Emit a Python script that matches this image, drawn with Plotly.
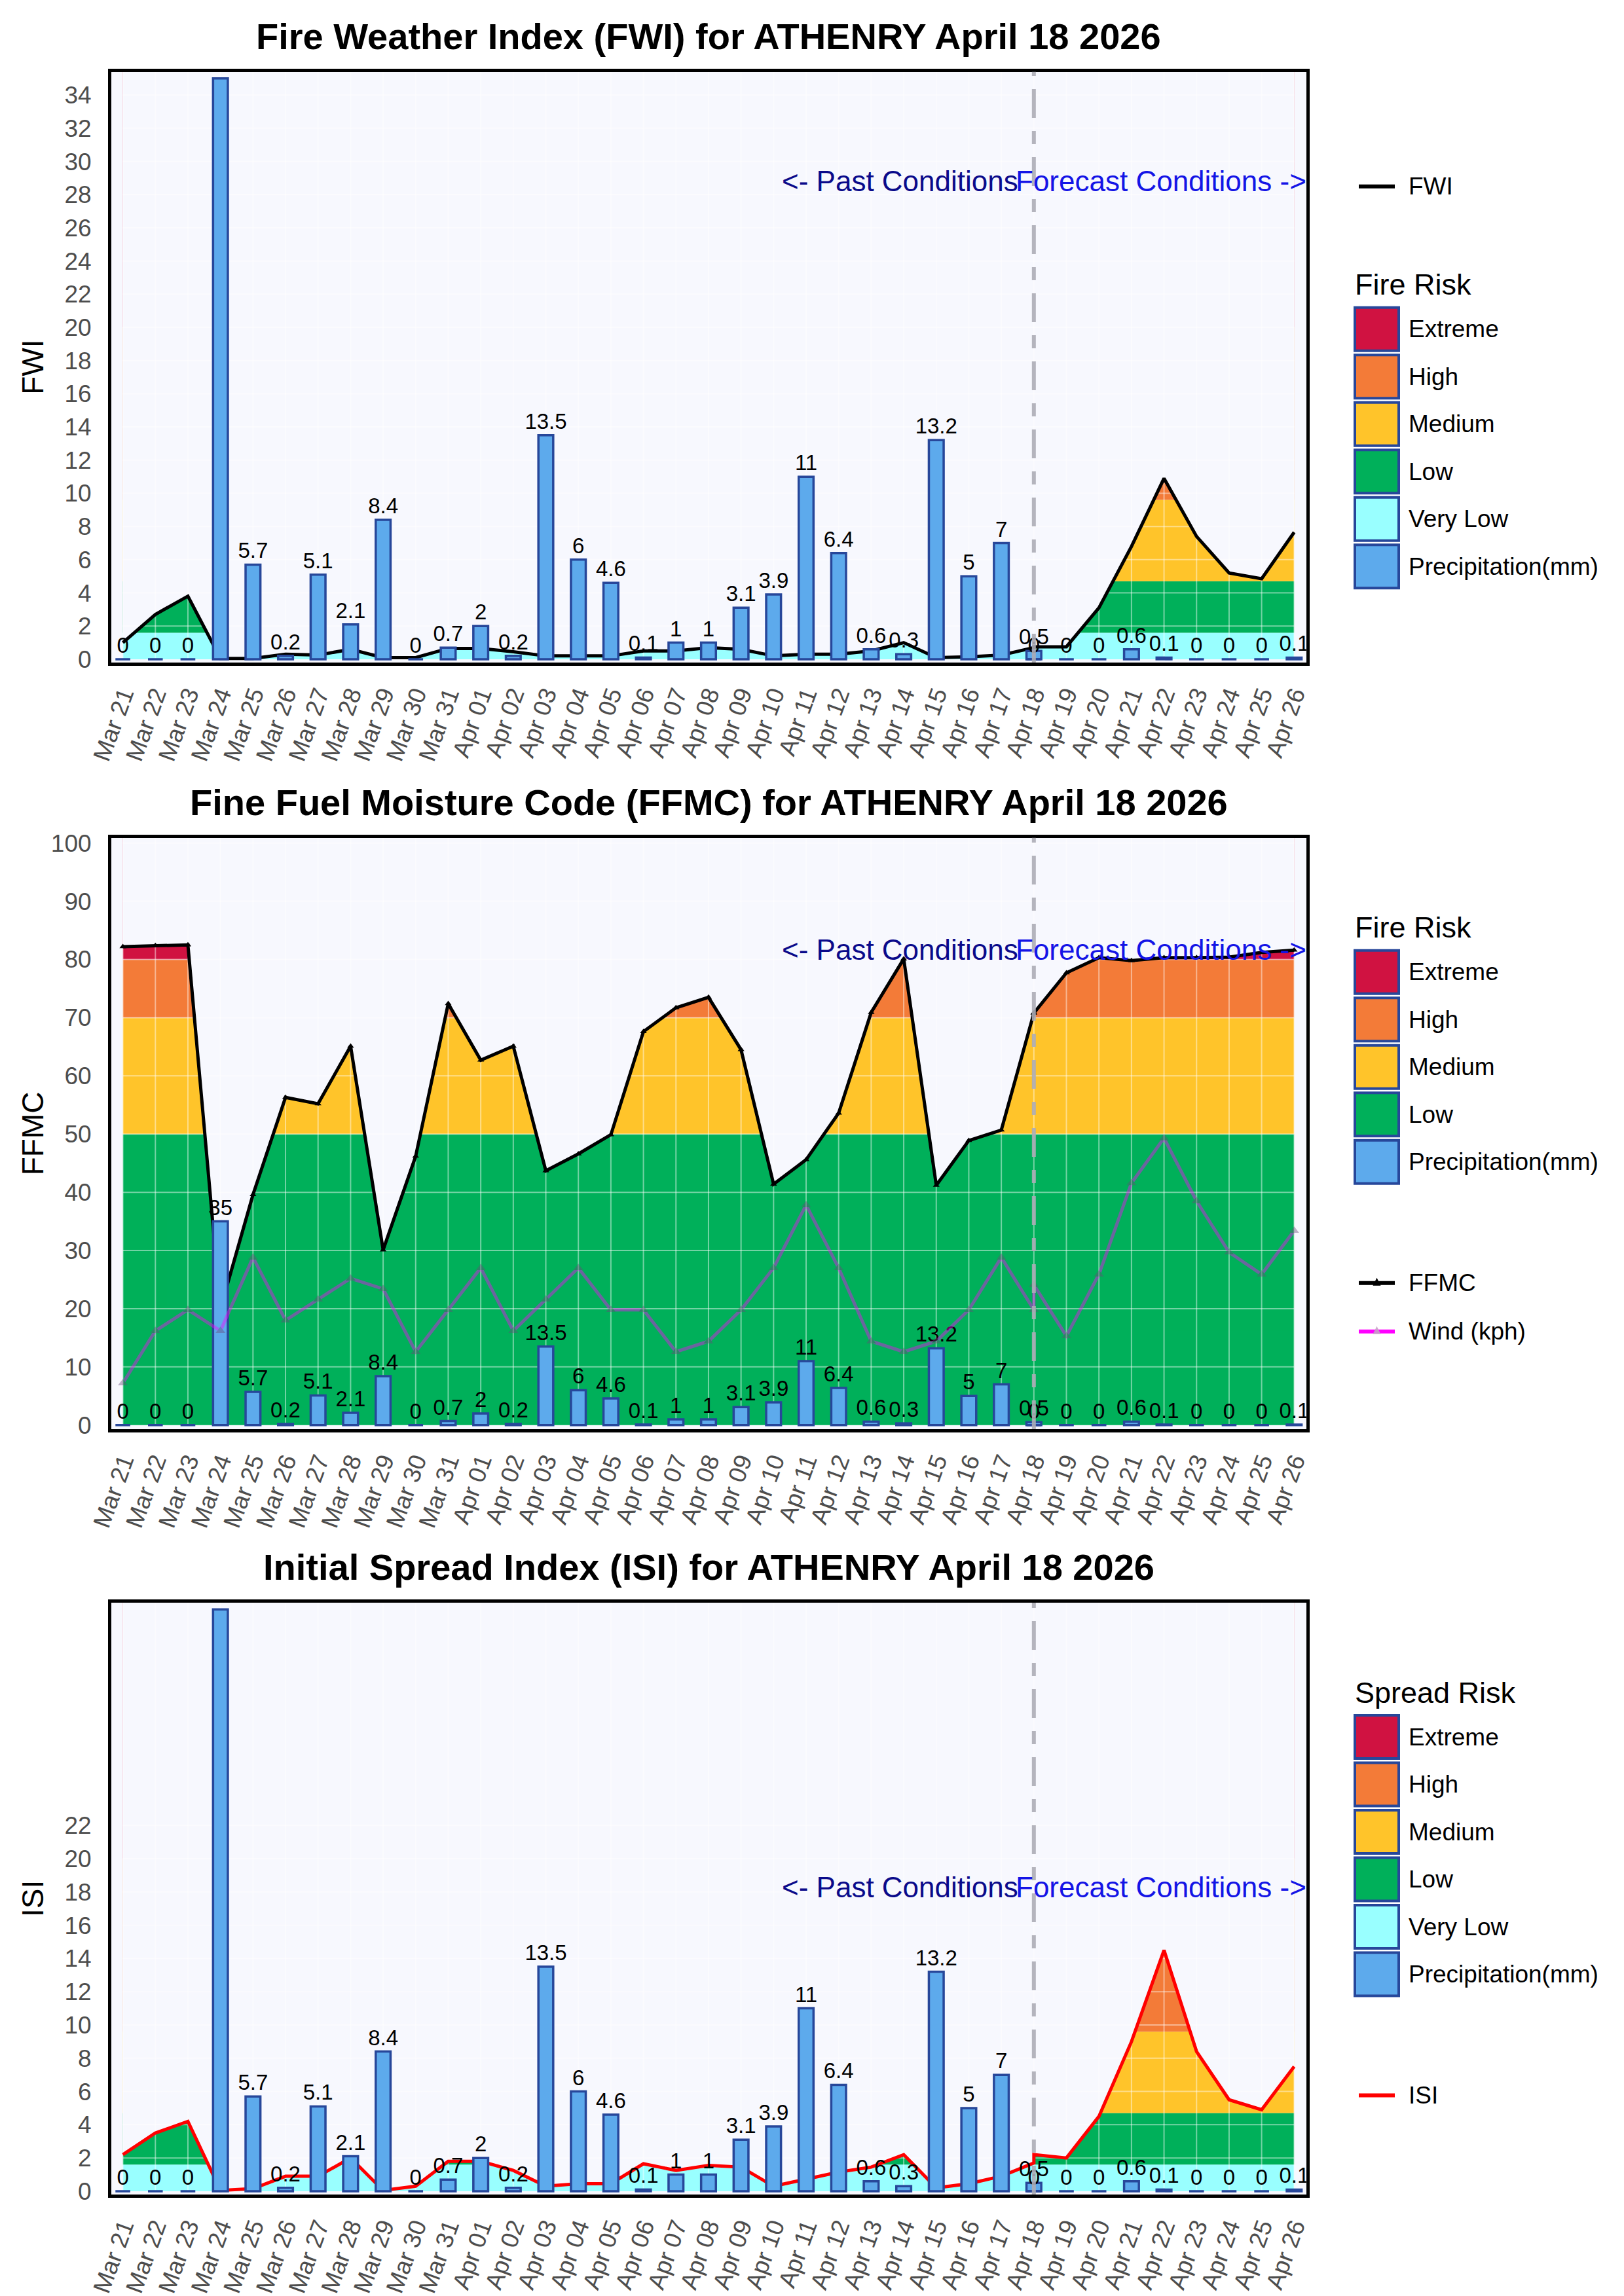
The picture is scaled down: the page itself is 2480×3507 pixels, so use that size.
import plotly.graph_objects as go

# ---------------- data ----------------
dates = ["Mar 21", "Mar 22", "Mar 23", "Mar 24", "Mar 25", "Mar 26", "Mar 27", "Mar 28", "Mar 29", "Mar 30", "Mar 31",
         "Apr 01", "Apr 02", "Apr 03", "Apr 04", "Apr 05", "Apr 06", "Apr 07", "Apr 08", "Apr 09", "Apr 10",
         "Apr 11", "Apr 12", "Apr 13", "Apr 14", "Apr 15", "Apr 16", "Apr 17", "Apr 18",
         "Apr 18", "Apr 19", "Apr 20", "Apr 21", "Apr 22", "Apr 23", "Apr 24", "Apr 25", "Apr 26"]

precip = [0, 0, 0, 35, 5.7, 0.2, 5.1, 2.1, 8.4, 0, 0.7,
          2, 0.2, 13.5, 6, 4.6, 0.1, 1, 1, 3.1, 3.9,
          11, 6.4, 0.6, 0.3, 13.2, 5, 7, 0.5,
          0, 0, 0, 0.6, 0.1, 0, 0, 0, 0.1]

fwi = [1.0, 2.7, 3.8, 0.05, 0.05, 0.3, 0.25, 0.6, 0.1, 0.1, 0.65,
       0.65, 0.45, 0.2, 0.2, 0.2, 0.5, 0.5, 0.7, 0.6, 0.2,
       0.3, 0.3, 0.5, 1.0, 0.1, 0.15, 0.25, 0.7,
       0.75, 0.75, 3.1, 6.8, 10.9, 7.4, 5.2, 4.85, 7.65]

ffmc = [82.2, 82.4, 82.5, 20.0, 39.6, 56.3, 55.2, 65.1, 30.1, 46.2, 72.4,
        62.7, 65.1, 43.7, 46.6, 49.9, 67.6, 71.7, 73.5, 64.5, 41.4,
        45.6, 53.6, 70.9, 80.1, 41.2, 48.9, 50.7, 70.8,
        70.8, 77.7, 80.3, 79.8, 80.3, 80.3, 80.4, 81.2, 81.6]

wind = [7.2, 16.2, 19.8, 16.2, 28.8, 18.0, 21.6, 25.2, 23.4, 12.6, 19.8,
        27.0, 16.2, 21.6, 27.0, 19.8, 19.8, 12.6, 14.4, 19.8, 27.0,
        37.8, 27.0, 14.4, 12.6, 14.4, 19.8, 28.8, 19.8,
        24.1, 15.3, 25.9, 41.6, 49.3, 38.5, 29.7, 25.9, 33.4]

isi = [2.2, 3.5, 4.2, 0.05, 0.15, 0.9, 0.9, 2.0, 0.05, 0.3, 1.8,
       1.8, 1.25, 0.3, 0.45, 0.45, 1.65, 1.25, 1.55, 1.45, 0.3,
       0.75, 1.15, 1.45, 2.2, 0.2, 0.45, 0.9, 1.7,
       2.2, 2.0, 4.5, 9.0, 14.5, 8.4, 5.5, 4.9, 7.5]

fwi_thresholds = [("Very Low", 0, 1.6), ("Low", 1.6, 4.7), ("Medium", 4.7, 9.6), ("High", 9.6, 20), ("Extreme", 20, None)]
ffmc_thresholds = [("Low", 0, 50), ("Medium", 50, 70), ("High", 70, 80), ("Extreme", 80, None)]
isi_thresholds = [("Very Low", 0, 1.6), ("Low", 1.6, 4.7), ("Medium", 4.7, 9.6), ("High", 9.6, 20), ("Extreme", 20, None)]

fwi_ticks = list(range(0, 35, 2))
ffmc_ticks = list(range(0, 101, 10))
isi_ticks = list(range(0, 23, 2))

forecast_start = "Apr 18"

# ---------------- style ----------------
W, H = 2480, 3507
FONT = "Liberation Sans, Arial, Helvetica, sans-serif"
PLOT_BG = "#F7F8FE"
RISK_COLORS = {"Extreme": "#D01241", "High": "#F37B38", "Medium": "#FFC42A",
               "Low": "#00B05A", "Very Low": "#99FFFF"}
PRECIP_FILL = "#5DAAEC"
PRECIP_LINE = "#27479A"
X_LEFT, X_RIGHT = 161.7, 1986.7
TICK_COLOR = "#4D4D4D"

categories = []
for d in dates:
    if d not in categories:
        categories.append(d)
n = len(dates)
x_range = [-0.36, len(categories) - 1 + 0.37]


def px_x(p):
    return p / W


def px_y(p):
    return 1 - p / H


panels = [
    dict(title="Fire Weather Index (FWI) for ATHENRY April 18 2026", axis_title="FWI",
         values=fwi, color="black", bands=fwi_thresholds, yrange=[-0.2, 35.4], ticks=fwi_ticks,
         top=101.7, bottom=1004.0, note_y=28.8, markers=False,
         legend_title="Fire Risk", legend_boxes=["Extreme", "High", "Medium", "Low", "Very Low"],
         line_items=[("FWI", "black", False)], lines_first=True),
    dict(title="Fine Fuel Moisture Code (FFMC) for ATHENRY April 18 2026", axis_title="FFMC",
         values=ffmc, color="black", bands=ffmc_thresholds, yrange=[-0.7, 100.9], ticks=ffmc_ticks,
         top=1271.7, bottom=2175.0, note_y=81.7, markers=True,
         legend_title="Fire Risk", legend_boxes=["Extreme", "High", "Medium", "Low"],
         line_items=[("FFMC", "black", True), ("Wind (kph)", "#FF00FF", True)], lines_first=False),
    dict(title="Initial Spread Index (ISI) for ATHENRY April 18 2026", axis_title="ISI",
         values=isi, color="#FF0000", bands=isi_thresholds, yrange=[-0.2, 35.4], ticks=isi_ticks,
         top=2440.0, bottom=3344.0, note_y=18.3, markers=False,
         legend_title="Spread Risk", legend_boxes=["Extreme", "High", "Medium", "Low", "Very Low"],
         line_items=[("ISI", "#FF0000", False)], lines_first=False),
]

fig = go.Figure()
shapes = []
annotations = []
layout_axes = {}

for i, p in enumerate(panels):
    sfx = "" if i == 0 else str(i + 1)
    xr, yr = "x" + sfx, "y" + sfx
    xo = "x" + str(i + 4)          # overlay x axis: bars and wind drawn above the area layers
    ytop = p["yrange"][1]

    # risk bands (constant horizontal bands, later masked above the index line)
    for name, lo, hi in p["bands"]:
        hi_v = ytop if hi is None else hi
        fig.add_trace(go.Scatter(x=dates, y=[lo] * n, mode="lines", line=dict(width=0),
                                 hoverinfo="skip", showlegend=False, xaxis=xr, yaxis=yr))
        fig.add_trace(go.Scatter(x=dates, y=[hi_v] * n, mode="lines", line=dict(width=0),
                                 fill="tonexty", fillcolor=RISK_COLORS[name], name=name,
                                 hoverinfo="skip", showlegend=False, xaxis=xr, yaxis=yr))
    # mask everything above the index line with the plot background
    fig.add_trace(go.Scatter(x=dates, y=[ytop] * n, mode="lines", line=dict(width=0),
                             hoverinfo="skip", showlegend=False, xaxis=xr, yaxis=yr))
    fig.add_trace(go.Scatter(x=dates, y=p["values"], mode="lines", line=dict(width=0),
                             fill="tonexty", fillcolor=PLOT_BG,
                             hoverinfo="skip", showlegend=False, xaxis=xr, yaxis=yr))
    # grid drawn over the bands
    gx, gy = [], []
    for t in p["ticks"]:
        if t > 0:
            gx += [categories[0], categories[-1], None]
            gy += [t, t, None]
    for c in categories:
        gx += [c, c, None]
        gy += [0, ytop, None]
    fig.add_trace(go.Scatter(x=gx, y=gy, mode="lines", line=dict(color="rgba(255,255,255,0.45)", width=2),
                             hoverinfo="skip", showlegend=False, xaxis=xr, yaxis=yr))
    # index line
    fig.add_trace(go.Scatter(x=dates, y=p["values"], name=p["axis_title"],
                             mode="lines+markers" if p["markers"] else "lines",
                             line=dict(color=p["color"], width=5),
                             marker=dict(symbol="triangle-up", size=9, color=p["color"]),
                             showlegend=False, xaxis=xr, yaxis=yr))
    # precipitation bars (overlay subplot so they sit above the areas and line)
    fig.add_trace(go.Bar(x=dates, y=precip, width=0.455, name="Precipitation(mm)",
                         marker=dict(color=PRECIP_FILL, line=dict(color=PRECIP_LINE, width=3.5)),
                         texttemplate="%{y}", textposition="outside", textangle=0,
                         constraintext="none", cliponaxis=True,
                         textfont=dict(size=33, color="black", family=FONT),
                         showlegend=False, xaxis=xo, yaxis=yr))
    if p["axis_title"] == "FFMC":
        fig.add_trace(go.Scatter(x=dates, y=wind, name="Wind (kph)", mode="lines+markers",
                                 line=dict(color="#FF00FF", width=5),
                                 marker=dict(symbol="triangle-up", size=13, color="#6A4A7A"),
                                 opacity=0.42, showlegend=False, xaxis=xo, yaxis=yr))

    # axes
    layout_axes["xaxis" + sfx] = dict(
        domain=[px_x(X_LEFT), px_x(X_RIGHT)], anchor=yr, type="category",
        categoryorder="array", categoryarray=categories, range=x_range,
        tickangle=-70, tickfont=dict(size=37, color=TICK_COLOR, family=FONT),
        showgrid=False, zeroline=False, showline=True, linecolor="black", linewidth=4.5,
        mirror=True, ticks="", ticklabelstandoff=8, fixedrange=True, automargin=False)
    layout_axes["xaxis" + str(i + 4)] = dict(
        overlaying=xr, anchor=yr, type="category", categoryorder="array", categoryarray=categories,
        range=x_range, visible=False, showgrid=False, zeroline=False, fixedrange=True, automargin=False)
    layout_axes["yaxis" + sfx] = dict(
        domain=[px_y(p["bottom"]), px_y(p["top"])], anchor=xr, range=p["yrange"],
        tickvals=p["ticks"], tickfont=dict(size=37, color=TICK_COLOR, family=FONT),
        showgrid=False, zeroline=False, showline=True, linecolor="black", linewidth=4.5,
        mirror=True, ticks="", ticklabelstandoff=18, fixedrange=True, automargin=False)

    # forecast divider
    vx = categories.index(forecast_start)
    shapes.append(dict(type="line", xref=xr, yref=yr + " domain", x0=vx, x1=vx, y0=0, y1=1,
                       line=dict(color="rgba(172,172,182,0.9)", width=6, dash="44px,20px,20px,20px"),
                       layer="above"))
    annotations.append(dict(x=forecast_start, y=p["note_y"], xref=xr, yref=yr, text="<- Past Conditions",
                            showarrow=False, xanchor="right", yanchor="middle", xshift=-22,
                            font=dict(size=44, color="#0A0A8A", family=FONT)))
    annotations.append(dict(x=forecast_start, y=p["note_y"], xref=xr, yref=yr, text="Forecast Conditions ->",
                            showarrow=False, xanchor="left", yanchor="middle", xshift=-30,
                            font=dict(size=44, color="#1414E6", family=FONT)))

    # subplot title
    annotations.append(dict(x=px_x((X_LEFT + X_RIGHT) / 2), y=px_y(p["top"] - 21), xref="paper", yref="paper",
                            text="<b>" + p["title"] + "</b>", showarrow=False, xanchor="center", yanchor="bottom",
                            font=dict(size=56, color="black", family=FONT)))
    # y axis title
    annotations.append(dict(x=px_x(42), y=px_y((p["top"] + p["bottom"]) / 2), xref="paper", yref="paper",
                            text=p["axis_title"], showarrow=False, textangle=-90, xanchor="center",
                            yanchor="middle", font=dict(size=46, color="black", family=FONT)))

    # ---- legend (drawn in paper space) ----
    box_x0, box_x1, txt_x = 2061, 2128, 2141
    pitch = 72.5
    if p["lines_first"]:
        line_y0 = p["top"] + 175
        title_y = p["top"] + 325
    else:
        title_y = p["top"] + 137
    box_y0 = title_y + 68
    box_entries = p["legend_boxes"] + ["Precipitation(mm)"]
    annotations.append(dict(x=px_x(box_x0 - 2), y=px_y(title_y), xref="paper", yref="paper",
                            text=p["legend_title"], showarrow=False, xanchor="left", yanchor="middle",
                            font=dict(size=45, color="black", family=FONT)))
    for k, name in enumerate(box_entries):
        cy = box_y0 + k * pitch
        fill = PRECIP_FILL if name == "Precipitation(mm)" else RISK_COLORS[name]
        shapes.append(dict(type="rect", xref="paper", yref="paper",
                           x0=px_x(box_x0), x1=px_x(box_x1), y0=px_y(cy - 33), y1=px_y(cy + 33),
                           fillcolor=fill, line=dict(color=PRECIP_LINE, width=4), layer="above"))
        annotations.append(dict(x=px_x(txt_x), y=px_y(cy), xref="paper", yref="paper", text=name,
                                showarrow=False, xanchor="left", yanchor="middle",
                                font=dict(size=37, color="black", family=FONT)))
    if not p["lines_first"]:
        line_y0 = box_y0 + (len(box_entries) - 1) * pitch + 185
    for k, (label, col, tri) in enumerate(p["line_items"]):
        cy = line_y0 + k * 74
        shapes.append(dict(type="line", xref="paper", yref="paper",
                           x0=px_x(2067), x1=px_x(2122), y0=px_y(cy), y1=px_y(cy),
                           line=dict(color=col, width=6), layer="above"))
        if tri:
            tcol = "black" if col == "black" else "rgba(200,160,200,0.9)"
            cx = 2094.5
            path = "M {:.5f},{:.5f} L {:.5f},{:.5f} L {:.5f},{:.5f} Z".format(
                px_x(cx - 6), px_y(cy + 4), px_x(cx + 6), px_y(cy + 4), px_x(cx), px_y(cy - 8))
            shapes.append(dict(type="path", xref="paper", yref="paper", path=path,
                               fillcolor=tcol, line=dict(width=0), layer="above"))
        annotations.append(dict(x=px_x(txt_x), y=px_y(cy), xref="paper", yref="paper", text=label,
                                showarrow=False, xanchor="left", yanchor="middle",
                                font=dict(size=37, color="black", family=FONT)))

fig.update_layout(
    template="none",
    width=W, height=H, margin=dict(l=0, r=0, t=0, b=0, pad=0, autoexpand=False),
    paper_bgcolor="white", plot_bgcolor=PLOT_BG,
    font=dict(family=FONT, color="black"),
    showlegend=False, barmode="overlay", hovermode=False,
    shapes=shapes, annotations=annotations,
    **layout_axes,
)

fig.write_html("out.html")
